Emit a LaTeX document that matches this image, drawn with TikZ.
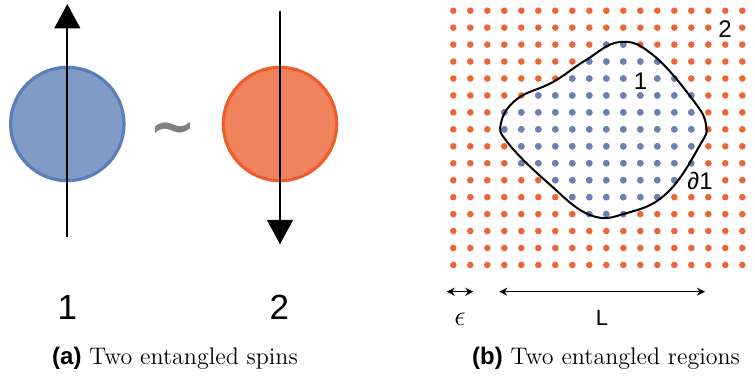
\documentclass[tikz,border=0pt]{standalone}
\usepackage{fontspec}
\setsansfont{Liberation Sans}
\newfontfamily\tildefont{DejaVu Sans}
\usetikzlibrary{arrows.meta, positioning}
\definecolor{spinone}{HTML}{7F9BC6}
\definecolor{spinoneedge}{HTML}{5B7EBA}
\definecolor{spintwo}{HTML}{F0835C}
\definecolor{spintwoedge}{HTML}{EC5F2D}
\definecolor{siteone}{HTML}{6482BC}
\definecolor{sitetwo}{HTML}{EF6435}
\colorlet{tildegrey}{black!50}

\begin{document}
\begin{tikzpicture}[
    x=0.5pt, y=-0.5pt,
    font=\sffamily,
    >=Stealth,
    spin/.style={circle, minimum size=56.7pt, inner sep=0pt, line width=1.6pt},
    spinarr/.style={-{Triangle[width=12.9pt, length=12.2pt]}, line width=1pt},
    bignum/.style={font=\sffamily\fontsize{17.5}{17.5}\selectfont},
    regionlab/.style={font=\sffamily\fontsize{12}{12}\selectfont, fill=white,
                      inner sep=0.5pt},
    scalearr/.style={{Stealth[length=4pt, width=4pt]}-{Stealth[length=4pt, width=4pt]},
                     line width=0.7pt},
    scalelab/.style={font=\sffamily\fontsize{11}{11}\selectfont},
    boundary/.style={line width=1pt, black},
    caption/.style={font=\rmfamily\fontsize{12}{14}\selectfont},
]

\useasboundingbox (0, 0) rectangle (755, 380);

\def\gx{453.3}
\def\gy{10.7}
\def\gdx{17}
\def\gdy{16.95}
\def\dotr{3.3}

% ════════════════════════════════════════════════════════════
% LEFT: two spins
% ════════════════════════════════════════════════════════════
\node[spin, fill=spinone, draw=spinoneedge] (s1) at (67.3, 124) {};
\node[spin, fill=spintwo, draw=spintwoedge] (s2) at (280, 124) {};

\coordinate (s1tail) at (67.3, 236.7);
\coordinate (s1head) at (67.3, 4);
\coordinate (s2tail) at (280, 10.7);
\coordinate (s2head) at (280, 244.3);

\draw[spinarr] (s1tail) -- (s1head);
\draw[spinarr] (s2tail) -- (s2head);

\node[font=\tildefont\bfseries\fontsize{28}{28}\selectfont, text=tildegrey]
    (tilde) at (173.3, 134) {\textasciitilde};

\node[bignum] (n1) at (67.3, 307) {1};
\node[bignum] (n2) at (279.3, 307) {2};

\node[caption] (capa) at (175, 358) {\textsf{\bfseries (a)} Two entangled spins};

% ════════════════════════════════════════════════════════════
% RIGHT: lattice with region 1 inside region 2
% ════════════════════════════════════════════════════════════
\foreach \r in {0,...,15}
    \foreach \c in {0,...,17}
        \fill[sitetwo] (\gx+\gdx*\c, \gy+\gdy*\r) circle[radius=\dotr];

% row / first column / last column of region 1
\foreach \r/\a/\b in {2/9/10, 3/8/12, 4/7/13, 5/5/14, 6/3/14, 7/3/14,
                      8/4/14, 9/4/14, 10/6/13, 11/7/12, 12/8/10}
    \foreach \c in {\a,...,\b}
        \fill[siteone] (\gx+\gdx*\c, \gy+\gdy*\r) circle[radius=\dotr];

\draw[boundary] plot[smooth cycle, tension=0.7] coordinates {
    (501, 123) (517, 99) (553, 82) (586, 60) (620, 42) (653, 55)
    (693, 100) (706, 125) (700, 145) (667, 193) (627, 213) (590, 215)
    (547, 182) (508, 143)};

\node[regionlab] (r2) at (725, 29.3) {2};
\node[regionlab] (r1) at (640.5, 81) {1};
\node[regionlab] (dr1) at (700, 181.5) {∂1};

\coordinate (epsl) at (446.7, 291.7);
\coordinate (epsr) at (473.3, 291.7);
\coordinate (lenl) at (499.3, 291.7);
\coordinate (lenr) at (705, 291.7);

\draw[scalearr] (epsl) -- (epsr);
\draw[scalearr] (lenl) -- (lenr);

\node[scalelab, font=\fontsize{15}{15}\selectfont] (epslab) at (460, 319) {$\epsilon$};
\node[scalelab] (lenlab) at (602, 318) {L};

\node[caption] (capb) at (606, 358) {\textsf{\bfseries (b)} Two entangled regions};

\end{tikzpicture}
\end{document}
